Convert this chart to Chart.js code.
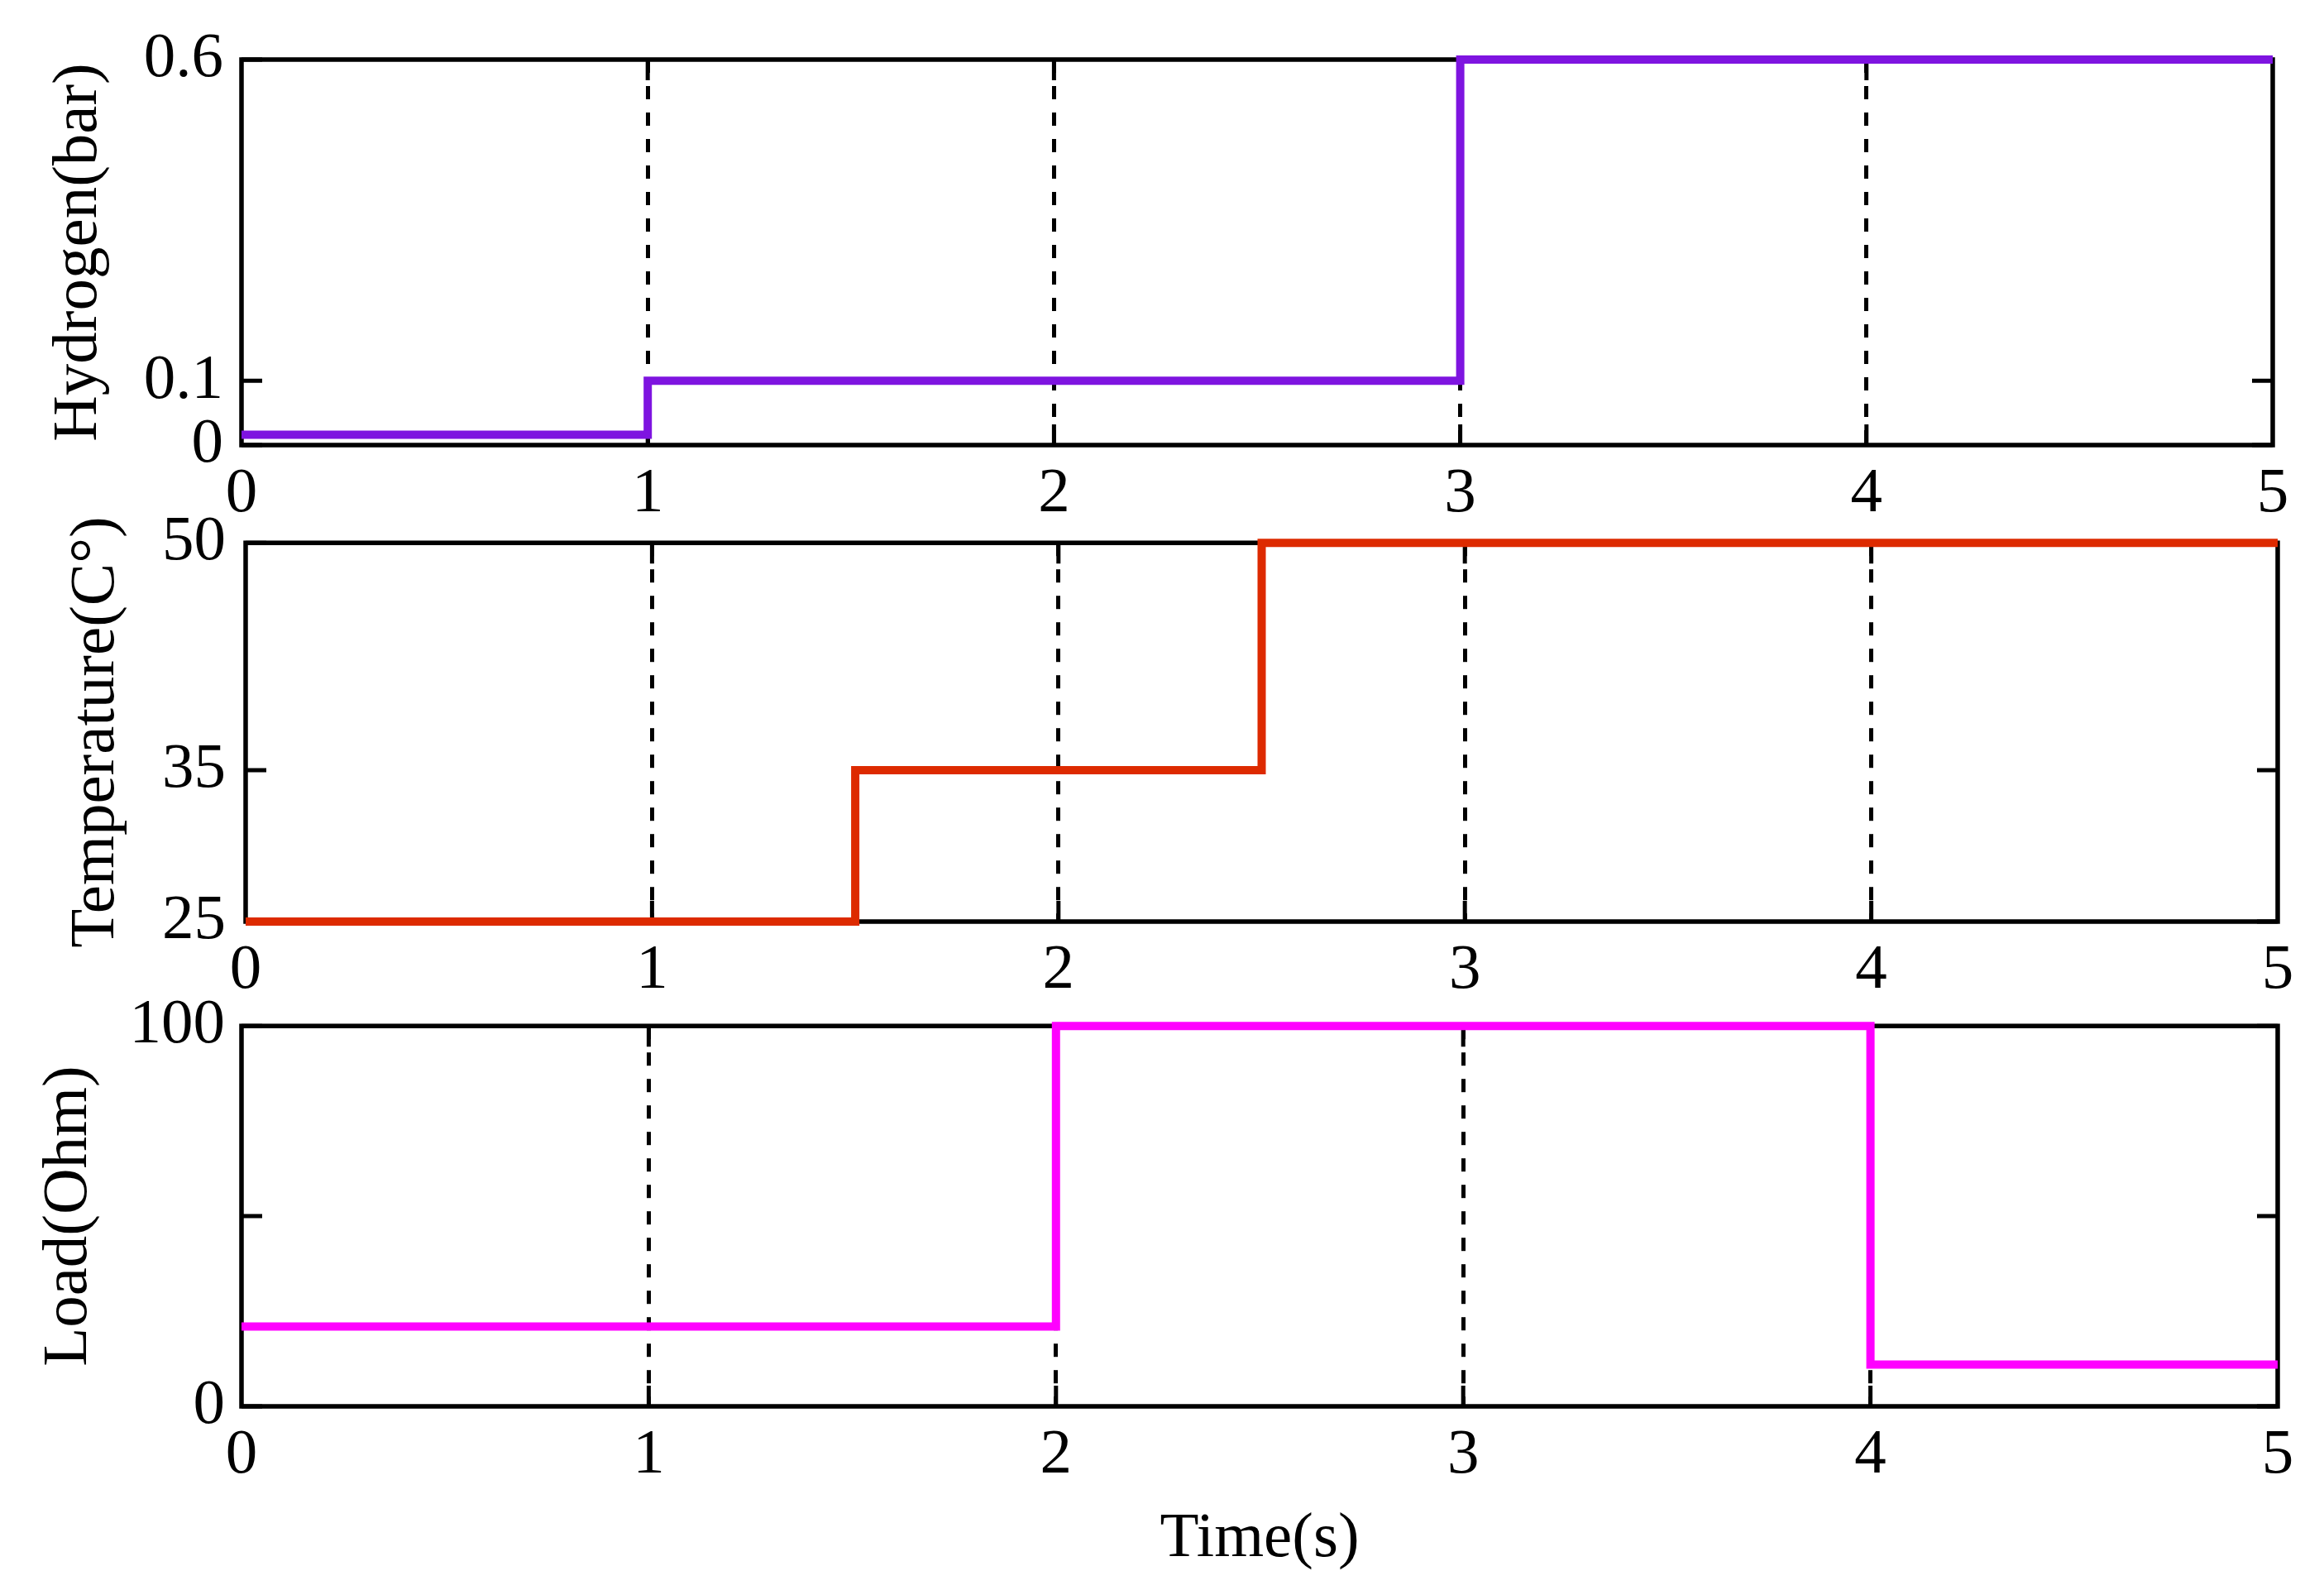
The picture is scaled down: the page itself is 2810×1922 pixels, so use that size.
<!DOCTYPE html>
<html>
<head>
<meta charset="utf-8">
<script src="https://cdn.jsdelivr.net/npm/chart.js@4.4.0/dist/chart.umd.min.js"></script>
<style>
html,body{margin:0;padding:0;background:#ffffff;}
body{width:2810px;height:1922px;position:relative;overflow:hidden;}
.box{position:absolute;left:0;width:2810px;}
</style>
</head>
<body>
<div class="box" style="top:0px;height:646px"><canvas id="c1"></canvas></div>
<div class="box" style="top:586px;height:636px"><canvas id="c2"></canvas></div>
<div class="box" style="top:1174px;height:747px"><canvas id="c3"></canvas></div>
<script>
// ---- data ----
const timeTicks = [0, 1, 2, 3, 4, 5];

const hydrogenTime = [0, 1, 3, 5];
const hydrogenValues = [0.016, 0.1, 0.6, 0.6];
const hydrogenTicks = [0, 0.1, 0.6];
const hydrogenTickLabels = ['0', '0.1', '0.6'];

const temperatureTime = [0, 1.5, 2.5, 5];
const temperatureValues = [25, 35, 50, 50];
const temperatureTicks = [25, 35, 50];
const temperatureTickLabels = ['25', '35', '50'];

const loadTime = [0, 2, 4, 5];
const loadValues = [21, 100, 11, 11];
const loadTicks = [0, 50, 100];
const loadTickLabels = ['0', '', '100'];

const yTitles = ['Hydrogen(bar)', 'Temperature(C°)', 'Load(Ohm)'];
const xTitle = 'Time(s)';

// ---- drawing ----
const FONT = 'Liberation Serif, Times New Roman, serif';

const framePlugin = {
  id: 'frame',
  beforeDatasetsDraw(chart) {
    const {ctx, chartArea: a, scales: {x, y}} = chart;
    ctx.save();
    ctx.strokeStyle = '#000';
    ctx.lineWidth = 5;
    ctx.beginPath();
    y.ticks.forEach(t => {
      const py = y.getPixelForValue(t.value);
      ctx.moveTo(a.left, py); ctx.lineTo(a.left + 25, py);
      ctx.moveTo(a.right, py); ctx.lineTo(a.right - 25, py);
    });
    x.ticks.forEach(t => {
      if (t.value <= x.min || t.value >= x.max) return;
      const px = x.getPixelForValue(t.value);
      ctx.moveTo(px, a.bottom); ctx.lineTo(px, a.bottom - 25);
      ctx.moveTo(px, a.top); ctx.lineTo(px, a.top + 25);
    });
    ctx.stroke();
    ctx.lineWidth = 5.5;
    ctx.strokeRect(a.left, a.top, a.right - a.left, a.bottom - a.top);
    ctx.restore();
  }
};

function makeChart(id, opt) {
  const pts = opt.times.map((t, i) => ({x: t, y: opt.values[i]}));
  return new Chart(document.getElementById(id), {
    type: 'line',
    data: {
      datasets: [{
        data: pts,
        stepped: true,
        borderColor: opt.color,
        borderWidth: 10,
        pointRadius: 0,
        borderJoinStyle: 'miter',
        borderCapStyle: 'butt',
        fill: false,
        clip: false
      }]
    },
    options: {
      responsive: true,
      maintainAspectRatio: false,
      animation: false,
      devicePixelRatio: 1,
      layout: {padding: {left: 0, right: opt.padRight, top: opt.padTop, bottom: 0}},
      plugins: {legend: {display: false}, tooltip: {enabled: false}},
      scales: {
        x: {
          type: 'linear',
          min: 0, max: 5,
          afterBuildTicks: s => { s.ticks = timeTicks.map(v => ({value: v})); },
          afterFit: s => { s.height = opt.xHeight; },
          ticks: {
            autoSkip: false,
            maxRotation: 0,
            padding: 14,
            color: '#000',
            font: {family: FONT, size: 77},
            callback: v => String(v)
          },
          grid: {
            drawTicks: false,
            lineWidth: 5,
            color: c => (c.tick && (c.tick.value === 0 || c.tick.value === 5)) ? 'rgba(0,0,0,0)' : '#000'
          },
          border: {display: false, dash: [16, 16]},
          title: opt.xTitle ? {
            display: true, text: opt.xTitle, color: '#000',
            font: {family: FONT, size: 77},
            padding: {top: 0, bottom: 14}
          } : {display: false}
        },
        y: {
          type: 'linear',
          min: opt.ticks[0], max: opt.ticks[opt.ticks.length - 1],
          afterBuildTicks: s => { s.ticks = opt.ticks.map(v => ({value: v})); },
          afterFit: s => { s.width = opt.left; },
          ticks: {
            autoSkip: false,
            padding: opt.yPad,
            color: '#000',
            font: {family: FONT, size: 77},
            callback: (v, i) => opt.labels[i]
          },
          grid: {display: false, drawTicks: false},
          border: {display: false},
          title: {
            display: true, text: opt.yTitle, color: '#000',
            font: {family: FONT, size: 77},
            padding: {top: opt.titlePad, bottom: 0}
          }
        }
      }
    },
    plugins: [framePlugin]
  });
}

makeChart('c1', {
  times: hydrogenTime, values: hydrogenValues, ticks: hydrogenTicks, labels: hydrogenTickLabels,
  color: '#7E14E0', yTitle: yTitles[0], left: 292, padRight: 62, padTop: 72, xHeight: 108,
  yPad: 22, titlePad: 50
});
makeChart('c2', {
  times: temperatureTime, values: temperatureValues, ticks: temperatureTicks, labels: temperatureTickLabels,
  color: '#DD2A00', yTitle: yTitles[1], left: 297, padRight: 56, padTop: 60, xHeight: 108,
  yPad: 24, titlePad: 71
});
makeChart('c3', {
  times: loadTime, values: loadValues, ticks: loadTicks, labels: loadTickLabels,
  color: '#FF00FF', yTitle: yTitles[2], left: 292, padRight: 56, padTop: 60, xHeight: 221,
  yPad: 20, titlePad: 38, xTitle: xTitle
});
</script>
</body>
</html>
